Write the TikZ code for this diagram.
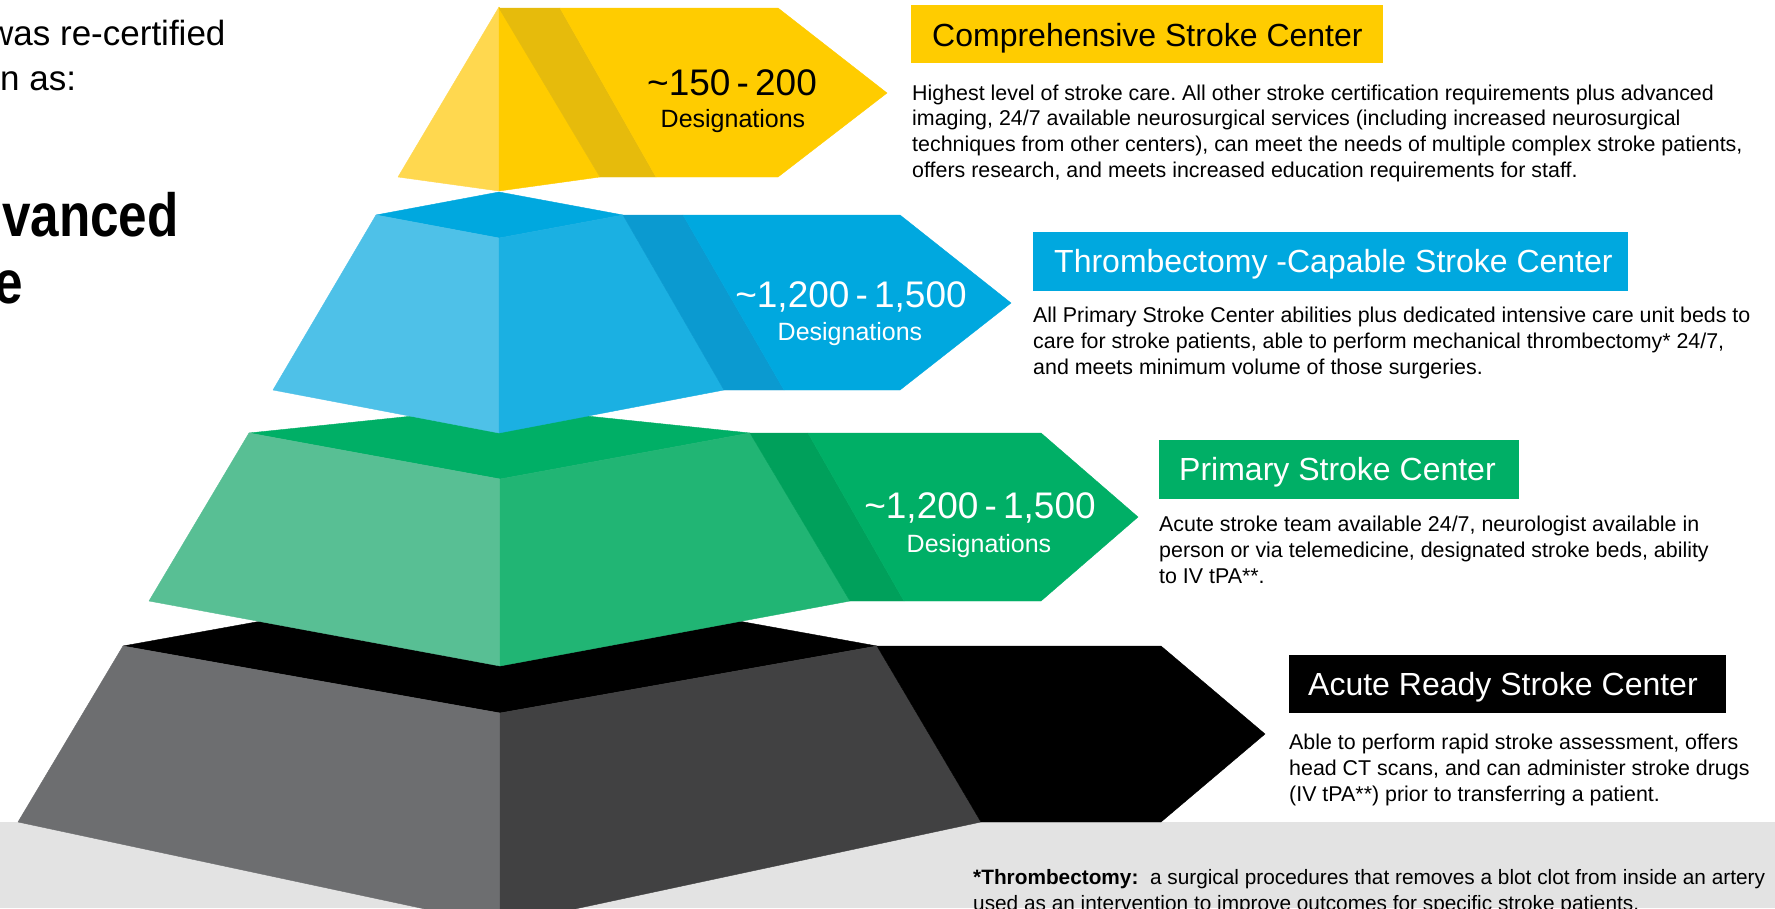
\documentclass[tikz,border=0pt]{standalone}
\usepackage{fontspec}
\setmainfont{Liberation Sans}
\frenchspacing
\definecolor{yel}{HTML}{FFCC00}
\definecolor{yelL}{HTML}{FFD84F}
\definecolor{yelD}{HTML}{E6BB0C}
\definecolor{blu}{HTML}{00A8DF}
\definecolor{bluL}{HTML}{4EC1E8}
\definecolor{bluR}{HTML}{1BB0E2}
\definecolor{bluD}{HTML}{0B9AD0}
\definecolor{grn}{HTML}{00AF66}
\definecolor{grnL}{HTML}{58BF94}
\definecolor{grnR}{HTML}{21B574}
\definecolor{grnD}{HTML}{00A05B}
\definecolor{gryL}{HTML}{6D6E70}
\definecolor{gryR}{HTML}{414142}
\definecolor{footband}{HTML}{E3E3E3}
\begin{document}
\begin{tikzpicture}[x=1pt,y=-1pt,
  face/.style={fill=#1,draw=#1,line width=0.4pt,line join=round},
  hdrbox/.style={fill=#1,draw=none,inner sep=0pt,anchor=north west},
  hdr/.style={anchor=base west,inner sep=0pt,text=#1,font=\fontsize{32}{38}\selectfont},
  desc/.style={anchor=base west,inner sep=0pt,align=left,font=\fontsize{21.4}{25.6}\selectfont},
  num/.style={anchor=base,inner sep=0pt,text=#1,font=\fontsize{37}{44}\selectfont},
  desig/.style={anchor=base,inner sep=0pt,text=#1,font=\fontsize{25}{30}\selectfont},
  lefttxt/.style={anchor=base west,inner sep=0pt}]
\useasboundingbox (0,0) rectangle (1775,908);
\clip (0,0) rectangle (1775,908);
\fill[white] (0,0) rectangle (1775,908);
\fill[footband] (0,822) rectangle (1775,908);

% ---- black level
\fill[face=black] (123,646) -- (500,578) -- (877,646) -- (500,713) -- cycle;
\fill[face=gryL] (123,646) -- (500,713) -- (500,925) -- (18,822) -- cycle;
\fill[face=gryR] (500,713) -- (877,646) -- (981,822) -- (500,925) -- cycle;
\fill[face=black] (877,646) -- (1161,646) -- (1265,734) -- (1161,822) -- (981,822) -- cycle;

% ---- green level
\fill[face=grn] (249,433) -- (500,407) -- (750,433) -- (500,479) -- cycle;
\fill[face=grnL] (249,433) -- (500,479) -- (500,666) -- (149,601) -- cycle;
\fill[face=grnR] (500,479) -- (750,433) -- (850,601) -- (500,666) -- cycle;
\fill[face=grnD] (750,433) -- (808,433) -- (904,601) -- (850,601) -- cycle;
\fill[face=grn] (808,433) -- (1041,433) -- (1138,517) -- (1041,601) -- (904,601) -- cycle;

% ---- blue level
\fill[face=blu] (376,215) -- (499,192) -- (623,215) -- (499,238) -- cycle;
\fill[face=bluL] (376,215) -- (499,238) -- (499,433) -- (273,390) -- cycle;
\fill[face=bluR] (499,238) -- (623,215) -- (724,390) -- (499,433) -- cycle;
\fill[face=bluD] (623,215) -- (683,215) -- (784,390) -- (724,390) -- cycle;
\fill[face=blu] (683,215) -- (900,215) -- (1011,303) -- (900,390) -- (784,390) -- cycle;

% ---- yellow level
\fill[face=yelL] (499,7) -- (499,191) -- (398,177) -- cycle;
\fill[face=yel] (499,7) -- (600,177) -- (499,191) -- cycle;
\fill[face=yelD] (499,8) -- (560,8) -- (656,177) -- (600,177) -- cycle;
\fill[face=yel] (560,8) -- (778,8) -- (887,93) -- (778,177) -- (656,177) -- cycle;

% ---- numbers
\node[num=black] (n1) at (732,95) {\textasciitilde150\,-\,200};
\node[desig=black] (d1) at (733,127) {Designations};
\node[num=white] (n2) at (851,307) {\textasciitilde1,200\,-\,1,500};
\node[desig=white] (d2) at (850,340) {Designations};
\node[num=white] (n3) at (980,518) {\textasciitilde1,200\,-\,1,500};
\node[desig=white] (d3) at (979,552) {Designations};

% ---- left text
\node[lefttxt,font=\fontsize{35}{40}\selectfont] (l1) at (-12,45) {was re-certified};
\node[lefttxt,font=\fontsize{35}{40}\selectfont] (l2) at (0,90) {n as:};
\node[lefttxt,font=\bfseries\fontsize{61}{70}\selectfont] (l3) at (2,236) {\scalebox{0.84}[1]{vanced}};
\node[lefttxt,font=\bfseries\fontsize{61}{70}\selectfont] (l4) at (-6,303) {\scalebox{0.84}[1]{e}};

% ---- headers
\node[hdrbox=yel,minimum width=472pt,minimum height=58pt] (b1) at (911,5) {};
\node[hdr=black] (h1) at (932,46) {Comprehensive Stroke Center};
\node[hdrbox=blu,minimum width=595pt,minimum height=59pt] (b2) at (1033,232) {};
\node[hdr=white] (h2) at (1054,272) {Thrombectomy -Capable Stroke Center};
\node[hdrbox=grn,minimum width=360pt,minimum height=59pt] (b3) at (1159,440) {};
\node[hdr=white] (h3) at (1179,480) {Primary Stroke Center};
\node[hdrbox=black,minimum width=437pt,minimum height=58pt] (b4) at (1289,655) {};
\node[hdr=white] (h4) at (1308,695) {Acute Ready Stroke Center};

% ---- descriptions (anchor = baseline of last line)
\node[desc] (p1) at (912,177) {Highest level of stroke care. All other stroke certification requirements plus advanced\\imaging, 24/7 available neurosurgical services (including increased neurosurgical\\techniques from other centers), can meet the needs of multiple complex stroke patients,\\offers research, and meets increased education requirements for staff.};
\node[desc] (p2) at (1033,374) {All Primary Stroke Center abilities plus dedicated intensive care unit beds to\\care for stroke patients, able to perform mechanical thrombectomy* 24/7,\\and meets minimum volume of those surgeries.};
\node[desc] (p3) at (1159,583) {Acute stroke team available 24/7, neurologist available in\\person or via telemedicine, designated stroke beds, ability\\to IV tPA**.};
\node[desc] (p4) at (1289,801) {Able to perform rapid stroke assessment, offers\\head CT scans, and can administer stroke drugs\\(IV tPA**) prior to transferring a patient.};

% ---- footnote
\node[desc,font=\fontsize{20.8}{25.6}\selectfont] (fn) at (973,910) {\textbf{*Thrombectomy:}\ \ a surgical procedures that removes a blot clot from inside an artery\\used as an intervention to improve outcomes for specific stroke patients.};
\end{tikzpicture}
\end{document}
